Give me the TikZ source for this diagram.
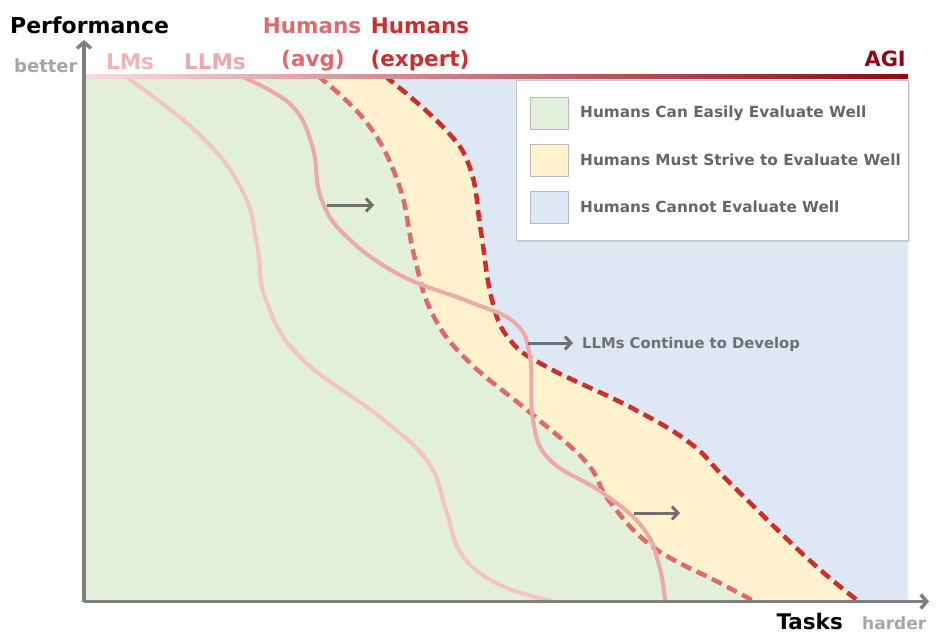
\documentclass[tikz,border=0pt]{standalone}
\usepackage{fontspec}
\setmainfont{DejaVu Sans}
\usetikzlibrary{arrows.meta,shadows}
\definecolor{cgreen}{HTML}{E2EFDA}
\definecolor{cyellow}{HTML}{FFF2CC}
\definecolor{cblue}{HTML}{DEE8F5}
\definecolor{axisgray}{HTML}{7F7F7F}
\definecolor{arrgray}{HTML}{707070}
\definecolor{txtgray}{HTML}{666666}
\definecolor{lightgray}{HTML}{A6A6A6}
\definecolor{lmscol}{HTML}{F3C4C4}
\definecolor{lmstext}{HTML}{F2B3B3}
\definecolor{llmscol}{HTML}{EDA8A8}
\definecolor{avgcol}{HTML}{E06A6A}
\definecolor{expcol}{HTML}{CC2E2E}
\definecolor{agicol}{HTML}{8E0A14}
\definecolor{gradA}{HTML}{FADCDC}
\definecolor{gradB}{HTML}{D83838}
\definecolor{gradC}{HTML}{8B0A12}
\newcommand\lmscurve{plot[smooth,tension=0.7] coordinates {(125,76) (200,135) (243,192) (257,245) (266,300) (300,357) (380,417) (428,462) (446,510) (462,555) (500,585) (552,601)}}
\newcommand\llmscurve{plot[smooth,tension=0.7] coordinates {(240,76) (290,104) (312,145) (321,198) (346,236) (400,275) (470,302) (515,323) (530,357) (533,420) (550,460) (603,493) (643,528) (659,565) (665,601)}}
\newcommand\avgcurve{plot[smooth,tension=0.7] coordinates {(318,76) (367,123) (399,185) (414,255) (432,313) (467,360) (533,415) (586,462) (610,502) (653,547) (720,583) (752,600)}}
\newcommand\expcurve{plot[smooth,tension=0.7] coordinates {(385,76) (443,127) (470,168) (481,232) (492,300) (510,340) (547,367) (630,407) (690,443) (727,480) (807,558) (857,600)}}
\begin{document}
\begin{tikzpicture}[x=1pt,y=-1pt,
  solidline/.style={line width=4pt},
  dashline/.style={line width=4.5pt, dash pattern=on 11pt off 6pt},
  grayarrow/.style={draw=arrgray, line width=3pt, -{Straight Barb[length=6pt,width=13pt]}},
  axisline/.style={draw=axisgray, line width=3.5pt, -{Straight Barb[length=6pt,width=14pt]}},
  swatch/.style={draw=gray!55, line width=1pt, minimum width=38pt, minimum height=32pt, inner sep=0pt},
  legtext/.style={anchor=west, text=txtgray, font=\bfseries\fontsize{15.3}{16}\selectfont, inner sep=0pt},
  toplabel/.style={anchor=base, font=\bfseries\fontsize{21.5}{22}\selectfont, inner sep=0pt}]
\useasboundingbox (0,0) rectangle (938,640);
% regions
\begin{scope}
  \clip (84,76) rectangle (908,600);
  \fill[cgreen] (84,76) rectangle (908,600);
  \fill[cyellow] \avgcurve -- (908,600) -- (908,76) -- cycle;
  \fill[cblue] \expcurve -- (908,600) -- (908,76) -- cycle;
  \draw[dashline, avgcol] \avgcurve;
  \draw[dashline, expcol] \expcurve;
  \draw[solidline, lmscol] \lmscurve;
  \draw[solidline, llmscol] \llmscurve;
\end{scope}
% top gradient line
\shade[left color=gradA, middle color=gradB, right color=gradC] (84,74.5) rectangle (908,78);
% legend
\node[draw=gray!45, line width=1.2pt, fill=white, minimum width=392pt, minimum height=160pt, anchor=north west, inner sep=0pt,
  drop shadow={shadow xshift=1.5pt, shadow yshift=-1.5pt, opacity=0.25}] (legend) at (516,80) {};
\node[swatch, fill=cgreen, anchor=north west] (sw1) at (530,97) {};
\node[swatch, fill=cyellow, anchor=north west] (sw2) at (530,144) {};
\node[swatch, fill=cblue, anchor=north west] (sw3) at (530,191) {};
\node[legtext] (lt1) at (580,113) {Humans Can Easily Evaluate Well};
\node[legtext] (lt2) at (580,160) {Humans Must Strive to Evaluate Well};
\node[legtext] (lt3) at (580,207) {Humans Cannot Evaluate Well};
% arrows
\coordinate (a1s) at (327,205);
\coordinate (a1e) at (374,205);
\coordinate (a2s) at (528,343);
\coordinate (a2e) at (573,343);
\coordinate (a3s) at (634,513);
\coordinate (a3e) at (680,513);
\draw[grayarrow] (a1s) -- (a1e);
\draw[grayarrow] (a2s) -- (a2e);
\draw[grayarrow] (a3s) -- (a3e);
\node[anchor=west, text=arrgray, font=\bfseries\fontsize{14.8}{16}\selectfont, inner sep=0pt] (dev) at (582,344) {LLMs Continue to Develop};
% axes
\coordinate (origin) at (84,601.5);
\coordinate (ytip) at (84,40);
\coordinate (xtip) at (929,601.5);
\draw[axisline] (origin) -- (ytip);
\draw[axisline] (origin) -- (xtip);
% labels
\node[anchor=base west, font=\bfseries\fontsize{22}{22}\selectfont, inner sep=0pt] (perf) at (10,33) {Performance};
\node[anchor=base west, text=lightgray, font=\bfseries\fontsize{18}{18}\selectfont, inner sep=0pt] (better) at (14,72) {better};
\node[toplabel, text=lmstext] (lms) at (130,69) {LMs};
\node[toplabel, text=llmscol] (llms) at (215,69) {LLMs};
\node[toplabel, text=avgcol] (avg1) at (312,33) {Humans};
\node[toplabel, text=avgcol] (avg2) at (313,66) {(avg)};
\node[toplabel, text=expcol] (exp1) at (420,33) {Humans};
\node[toplabel, text=expcol] (exp2) at (420,66) {(expert)};
\node[anchor=base east, text=agicol, font=\bfseries\fontsize{21}{21}\selectfont, inner sep=0pt] (agi) at (906,66) {AGI};
\node[anchor=base east, font=\bfseries\fontsize{21.5}{22}\selectfont, inner sep=0pt] (tasks) at (843,629) {Tasks};
\node[anchor=base west, text=lightgray, font=\bfseries\fontsize{17}{17}\selectfont, inner sep=0pt] (harder) at (862,629) {harder};
\end{tikzpicture}
\end{document}
